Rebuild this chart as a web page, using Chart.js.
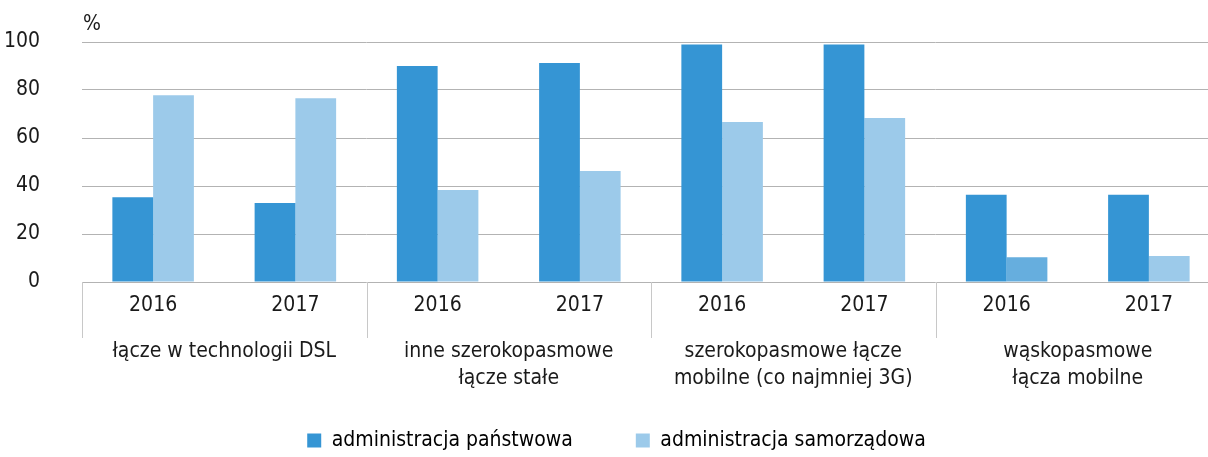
<!DOCTYPE html>
<html lang="pl">
<head>
<meta charset="utf-8">
<script src="https://cdn.jsdelivr.net/npm/chart.js@4.4.1/dist/chart.umd.min.js"></script>
<style>
  html, body { margin: 0; padding: 0; background: #fff; overflow: hidden; }
  #wrap { position: relative; width: 1220px; height: 457px; }
</style>
</head>
<body>
<div id="wrap"><canvas id="accessChart"></canvas></div>
<script>
const years = ['2016', '2017', '2016', '2017', '2016', '2017', '2016', '2017'];
const groups = [
  ['łącze w technologii DSL'],
  ['inne szerokopasmowe', 'łącze stałe'],
  ['szerokopasmowe łącze', 'mobilne (co najmniej 3G)'],
  ['wąskopasmowe', 'łącza mobilne']
];
const panstwowa = [35.3, 32.9, 90, 91.2, 99, 99, 36.4, 36.4];
const samorzadowa = [77.8, 76.6, 38.3, 46.2, 66.7, 68.3, 10.3, 10.8];
const yTicks = [0, 20, 40, 60, 80, 100];

const FONT = '"DejaVu Sans Condensed", "DejaVu Sans", sans-serif';
const SIZE = 21;
const TEXT = '#1a1a1a';
const DARK = '#3595d4';
const LIGHT = '#9ccaea';

// group labels, separators under the axis and the % sign
const groupAxis = {
  id: 'groupAxis',
  afterDraw(chart) {
    const { ctx, chartArea } = chart;
    const x = chart.scales.x;
    const half = (x.getPixelForValue(1) - x.getPixelForValue(0)) / 2;
    ctx.save();
    ctx.strokeStyle = '#c8c8c8';
    ctx.lineWidth = 1;
    for (let g = 0; g < groups.length; g++) {
      const left = Math.round(x.getPixelForValue(g * 2) - half) + 0.5;
      ctx.beginPath();
      ctx.moveTo(left, chartArea.bottom);
      ctx.lineTo(left, chartArea.bottom + 56);
      ctx.stroke();
    }
    ctx.fillStyle = TEXT;
    ctx.font = SIZE + 'px ' + FONT;
    ctx.textAlign = 'center';
    ctx.textBaseline = 'middle';
    groups.forEach((lines, g) => {
      const cx = (x.getPixelForValue(g * 2) + x.getPixelForValue(g * 2 + 1)) / 2;
      lines.forEach((t, i) => ctx.fillText(t, cx, chartArea.bottom + 70 + i * 27));
    });
    ctx.textAlign = 'left';
    ctx.fillText('%', chartArea.left + 1, chartArea.top - 17);
    ctx.restore();
  }
};

const ctx = document.getElementById('accessChart').getContext('2d');
new Chart(ctx, {
  type: 'bar',
  data: {
    labels: years,
    datasets: [{
      label: 'administracja państwowa',
      data: panstwowa,
      backgroundColor: DARK
    }, {
      label: 'administracja samorządowa',
      data: samorzadowa,
      backgroundColor: samorzadowa.map((v, i) => i === 6 ? '#66aede' : LIGHT)
    }]
  },
  options: {
    responsive: true,
    maintainAspectRatio: false,
    animation: false,
    devicePixelRatio: 1,
    categoryPercentage: 0.573,
    barPercentage: 1,
    layout: { padding: { left: 13, top: 42, right: 0, bottom: -4 } },
    plugins: {
      tooltip: { enabled: false },
      legend: {
        position: 'bottom',
        labels: {
          color: TEXT,
          font: { family: FONT, size: SIZE },
          boxWidth: 14,
          boxHeight: 14,
          padding: 63,
          generateLabels: (chart) => chart.data.datasets.map((ds, i) => ({
            text: ds.label,
            fillStyle: i === 0 ? DARK : LIGHT,
            strokeStyle: 'rgba(0,0,0,0)',
            lineWidth: 0,
            datasetIndex: i
          }))
        }
      }
    },
    scales: {
      x: {
        grid: { display: false },
        border: { display: false },
        ticks: { color: TEXT, font: { family: FONT, size: SIZE }, padding: 3, maxRotation: 0 },
        afterFit: (scale) => { scale.height = 85; }
      },
      y: {
        min: 0,
        max: 100,
        afterBuildTicks: (scale) => { scale.ticks = yTicks.map(v => ({ value: v })); },
        afterFit: (scale) => {
          scale.width = 69;
          scale.paddingTop = 0;
          scale.paddingBottom = 0;
          // let the "100" label run left of the scale box
          scale._computeLabelArea = () => undefined;
        },
        grid: { color: '#b3b3b3', lineWidth: 1, drawTicks: false },
        border: { display: false },
        ticks: { color: TEXT, font: { family: FONT, size: SIZE }, padding: 42 }
      }
    }
  },
  plugins: [groupAxis]
});
</script>
</body>
</html>
